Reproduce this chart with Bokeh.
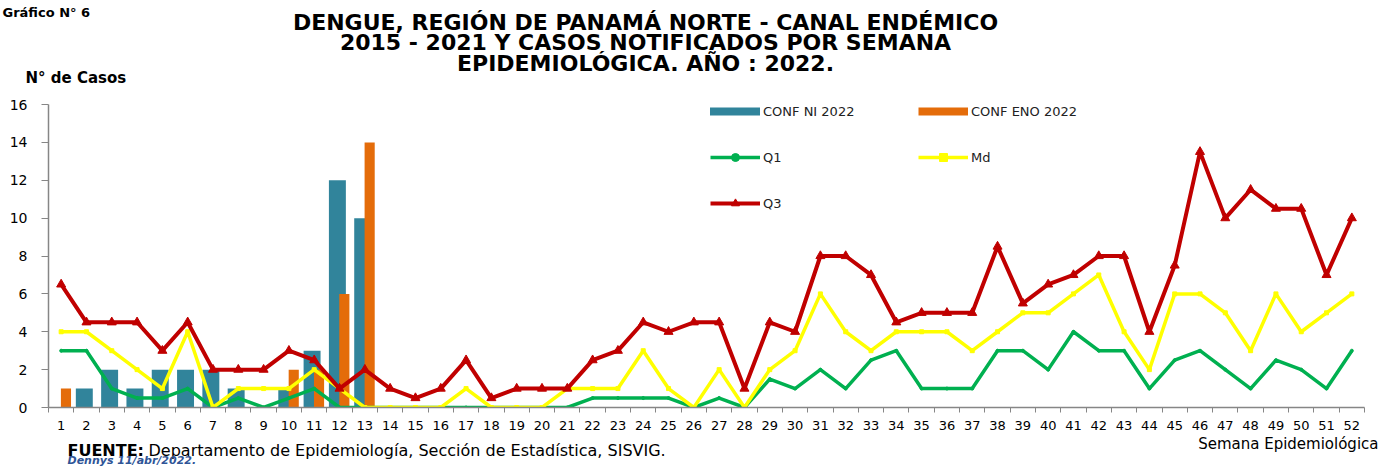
from bokeh.plotting import figure
from bokeh.layouts import column, row
from bokeh.models import Range1d, FixedTicker, Label, Legend, LegendItem, ColumnDataSource
from bokeh.transform import dodge
from bokeh.embed import file_html
from bokeh.resources import INLINE

# ---------------- data ----------------
weeks = list(range(1, 53))
week_labels = [str(w) for w in weeks]

bar_weeks = list(range(1, 14))
conf_ni_2022 = [0, 1, 2, 1, 2, 2, 2, 1, 0, 1, 3, 12, 10]
conf_eno_2022 = [1, 0, 0, 0, 0, 0, 0, 0, 0, 2, 2, 6, 14]

q1 = [3, 3, 1, 0.5, 0.5, 1, 0, 0.5, 0, 0.5,
      1, 0, 0, 0, 0, 0, 0, 0, 0, 0, 0,
      0.5, 0.5, 0.5, 0.5, 0, 0.5, 0,
      1.5, 1, 2, 1, 2.5, 3,
      1, 1, 1, 3, 3, 2, 4, 3, 3, 1,
      2.5, 3, 2, 1, 2.5, 2, 1, 3]
md = [4, 4, 3, 2, 1, 4, 0, 1, 1, 1,
      2, 1, 0, 0, 0, 0, 1, 0, 0, 0, 1,
      1, 1, 3, 1, 0, 2, 0,
      2, 3, 6, 4, 3, 4,
      4, 4, 3, 4, 5, 5, 6, 7, 4, 2,
      6, 6, 5, 3, 6, 4, 5, 6]
q3 = [6.5, 4.5, 4.5, 4.5, 3, 4.5, 2, 2, 2, 3,
      2.5, 1, 2, 1, 0.5, 1, 2.5, 0.5, 1, 1, 1,
      2.5, 3, 4.5, 4, 4.5, 4.5, 1,
      4.5, 4, 8, 8, 7, 4.5,
      5, 5, 5, 8.5, 5.5, 6.5, 7, 8, 8, 4,
      7.5, 13.5, 10, 11.5, 10.5, 10.5, 7, 10]

y_ticks = [0, 2, 4, 6, 8, 10, 12, 14, 16]

TEAL = "#31849B"
ORANGE = "#E46C0A"
GREEN = "#00B050"
YELLOW = "#FFFF00"
RED = "#C00000"
FONT = "DejaVu Sans"
W = 1380


def text_panel(height):
    f = figure(width=W, height=height, output_backend="svg", toolbar_location=None,
               x_range=Range1d(0, 1), y_range=Range1d(0, 1),
               x_axis_type=None, y_axis_type=None,
               min_border_left=0, min_border_right=0, min_border_top=0, min_border_bottom=0)
    f.outline_line_color = None
    f.border_fill_color = "white"
    f.background_fill_color = "white"
    return f


def lab(fig, x, y, text, size, style="normal", align="left", color="black", base="middle"):
    fig.add_layout(Label(x=x, y=y, x_units="screen", y_units="screen", text=text,
                         text_font=FONT, text_font_size=size, text_font_style=style,
                         text_align=align, text_baseline=base, text_color=color))


# ---------------- top panel: titles ----------------
TOP_H = 96
top = text_panel(TOP_H)
lab(top, 2, TOP_H - 12, "Gráfico N° 6", "13px", style="bold", base="alphabetic")
title_lines = ["DENGUE, REGIÓN DE PANAMÁ NORTE - CANAL ENDÉMICO",
               "2015 - 2021 Y CASOS NOTIFICADOS POR SEMANA",
               "EPIDEMIOLÓGICA. AÑO : 2022."]
for t, yy in zip(title_lines, [21.5, 42, 63]):
    lab(top, 645, TOP_H - yy, t, "22px", style="bold", align="center")
lab(top, 25, TOP_H - 77, "N° de Casos", "15px", style="bold")

# ---------------- main chart ----------------
p = figure(width=W, height=339, output_backend="svg", toolbar_location=None,
           x_range=Range1d(0.5, 52.5), y_range=Range1d(0, 16),
           min_border_left=48, min_border_right=16, min_border_top=8, min_border_bottom=28)
p.outline_line_color = None
p.xgrid.grid_line_color = None
p.ygrid.grid_line_color = None
p.background_fill_color = "white"
p.border_fill_color = "white"

bars = ColumnDataSource(dict(week=bar_weeks, ni=conf_ni_2022, eno=conf_eno_2022))
p.vbar(x=dodge("week", -0.085), top="ni", width=0.67, source=bars,
       fill_color=TEAL, line_color=None)
p.vbar(x=dodge("week", 0.19), top="eno", width=0.4, source=bars,
       fill_color=ORANGE, line_color=None)

lines = ColumnDataSource(dict(week=weeks, q1=q1, md=md, q3=q3))
r_q1 = p.line("week", "q1", source=lines, line_color=GREEN, line_width=3.5, line_join="round")
m_q1 = p.scatter("week", "q1", source=lines, marker="circle", size=3, color=GREEN)
r_md = p.line("week", "md", source=lines, line_color=YELLOW, line_width=3.5, line_join="round")
m_md = p.scatter("week", "md", source=lines, marker="square", size=4, color=YELLOW)
r_q3 = p.line("week", "q3", source=lines, line_color=RED, line_width=4, line_join="round")
m_q3 = p.scatter("week", "q3", source=lines, marker="triangle", size=9, color=RED)

# legend-only proxies for the bar series (NaN data, draws nothing in the plot)
nan = float("nan")
px_ni = p.line(x=[nan], y=[nan], line_color=TEAL, line_width=8, line_cap="round")
px_eno = p.line(x=[nan], y=[nan], line_color=ORANGE, line_width=8)

legend = Legend(items=[
    LegendItem(label="CONF NI 2022", renderers=[px_ni]),
    LegendItem(label="Q1", renderers=[r_q1, m_q1]),
    LegendItem(label="Q3", renderers=[r_q3, m_q3]),
    LegendItem(label="CONF ENO 2022", renderers=[px_eno]),
    LegendItem(label="Md", renderers=[r_md, m_md]),
], ncols=2, location=(662, 194), glyph_width=50, glyph_height=20, label_height=20,
    label_width=129, spacing=26, label_standoff=3, padding=0, margin=0,
    border_line_color=None, background_fill_alpha=0,
    label_text_font=FONT, label_text_font_size="13px", label_text_color="#222222")
p.add_layout(legend)

xa = p.xaxis[0]
xa.ticker = FixedTicker(ticks=weeks, minor_ticks=[w - 0.5 for w in weeks] + [52.5])
xa.major_label_overrides = {w: l for w, l in zip(weeks, week_labels)}
xa.major_tick_out = 0
xa.major_tick_in = 0
xa.minor_tick_out = 5
xa.minor_tick_in = 0
xa.minor_tick_line_color = "#868686"
xa.axis_line_color = "#868686"
xa.axis_line_width = 1.5
xa.major_label_standoff = 8
xa.major_label_text_font = FONT
xa.major_label_text_font_size = "13px"
xa.major_label_text_color = "black"

ya = p.yaxis[0]
ya.ticker = FixedTicker(ticks=y_ticks)
ya.major_tick_out = 7
ya.major_tick_in = 0
ya.minor_tick_line_color = None
ya.major_tick_line_color = "#868686"
ya.axis_line_color = "#868686"
ya.axis_line_width = 1.5
ya.major_label_standoff = 14
ya.major_label_text_font = FONT
ya.major_label_text_font_size = "14px"
ya.major_label_text_color = "black"

# ---------------- footer panel ----------------
FOOT_H = 468 - TOP_H - 339
foot = text_panel(FOOT_H)
Y0 = 468  # page y of the footer's bottom edge
lab(foot, 1378, Y0 - 443, "Semana Epidemiológica", "15px", align="right")
lab(foot, 67, Y0 - 450, "FUENTE:", "16px", style="bold")
lab(foot, 148, Y0 - 450, "Departamento de Epidemiología, Sección de Estadística, SISVIG.", "16px")
lab(foot, 67, Y0 - 460, "Dennys  11/abr/2022.", "11px", style="bold italic", color="#2F5597")

# the chart is wrapped in its own row so that its frame is not aligned with the text panels
layout = column(top, row(p, spacing=0), foot, spacing=0)
open("out.html", "w").write(file_html(layout, INLINE))
